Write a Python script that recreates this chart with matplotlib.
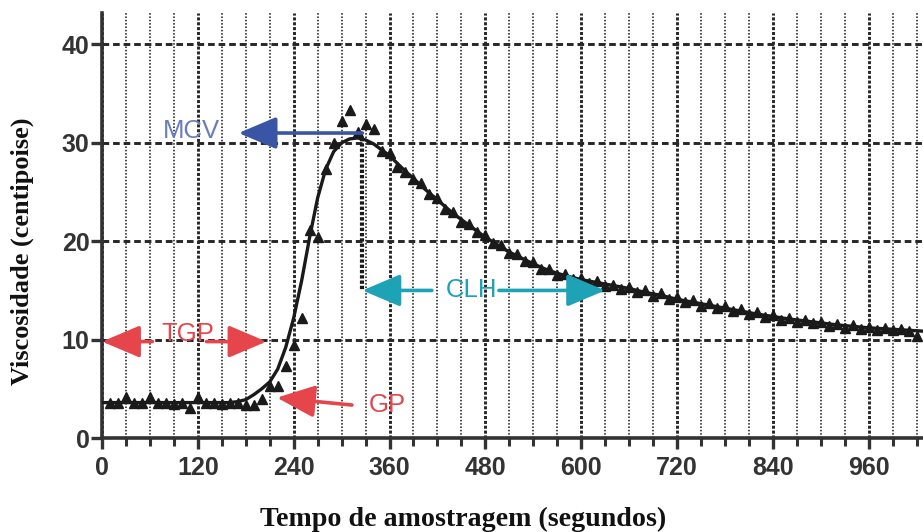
import matplotlib
matplotlib.use("Agg")
import matplotlib.pyplot as plt
from matplotlib.ticker import MultipleLocator

plt.rcParams['lines.scale_dashes'] = False

# ---------------- data ----------------
sample_t = [10, 20, 30, 40, 50, 60, 70, 80, 90, 100, 110, 120, 130, 140, 150, 160, 170, 180, 190, 200,
            210, 220, 230, 240, 250, 260, 270, 280, 290, 300, 310, 320, 330, 340, 350, 360, 370, 380, 390, 400,
            410, 420, 430, 440, 450, 460, 470, 480, 490, 500, 510, 520, 530, 540, 550, 560, 570, 580, 590, 600,
            610, 620, 630, 640, 650, 660, 670, 680, 690, 700, 710, 720, 730, 740, 750, 760, 770, 780, 790, 800,
            810, 820, 830, 840, 850, 860, 870, 880, 890, 900, 910, 920, 930, 940, 950, 960, 970, 980, 990, 1000,
            1010, 1020]
sample_visc = [3.6, 3.6, 4.2, 3.6, 3.6, 4.2, 3.6, 3.6, 3.5, 3.6, 3.1, 4.2, 3.6, 3.6, 3.5, 3.6, 3.6, 3.4, 3.4, 4.0,
               5.3, 5.3, 7.3, 9.5, 12.2, 21.1, 20.4, 27.3, 30.0, 32.2, 33.3, 31.1, 31.9, 31.4, 29.2, 29.0, 27.5, 27.0, 26.3, 25.9,
               24.8, 24.4, 23.3, 23.0, 22.0, 21.8, 20.9, 20.6, 19.8, 19.6, 18.8, 18.7, 18.0, 17.9, 17.2, 17.2, 16.6, 16.7, 16.2, 16.3,
               15.8, 16.0, 15.5, 15.6, 15.1, 15.3, 14.8, 15.0, 14.4, 14.7, 14.1, 14.3, 13.8, 14.0, 13.4, 13.7, 13.2, 13.4, 12.9, 13.1,
               12.6, 12.8, 12.3, 12.5, 12.0, 12.2, 11.8, 12.0, 11.7, 11.8, 11.4, 11.6, 11.2, 11.5, 11.1, 11.3, 11.0, 11.2, 11.0, 11.1,
               10.9, 10.4]

fit_t = [0, 10, 20, 30, 40, 50, 60, 70, 80, 90, 100, 110, 120, 130, 140, 150, 160, 170, 180, 190,
         200, 210, 220, 230, 240, 250, 260, 270, 280, 290, 300, 310, 320, 330, 340, 350, 360, 370, 380, 390,
         400, 410, 420, 430, 440, 450, 460, 470, 480, 490, 500, 510, 520, 530, 540, 550, 560, 570, 580, 590,
         600, 620, 640, 660, 680, 700, 720, 740, 760, 780, 800, 820, 840, 860, 880, 900, 920, 940, 960, 980,
         1000, 1020, 1030]
fit_visc = [3.6, 3.6, 3.6, 3.6, 3.6, 3.6, 3.6, 3.6, 3.6, 3.6, 3.6, 3.6, 3.6, 3.6, 3.6, 3.6, 3.6, 3.7, 3.9, 4.4,
            5.0, 5.7, 7.0, 9.2, 12.2, 16.0, 20.4, 24.4, 27.3, 29.1, 30.0, 30.4, 30.5, 30.3, 29.9, 29.3, 28.7, 27.9, 27.1, 26.4,
            25.6, 24.9, 24.2, 23.5, 22.8, 22.2, 21.6, 21.0, 20.4, 19.9, 19.4, 18.9, 18.5, 18.1, 17.7, 17.35, 17.0, 16.75, 16.5, 16.3,
            16.1, 15.8, 15.5, 15.2, 14.8, 14.5, 14.1, 13.8, 13.5, 13.2, 12.9, 12.6, 12.35, 12.1, 11.9, 11.7, 11.5, 11.35, 11.2, 11.1,
            11.0, 10.9, 10.85]

x_major = [0, 120, 240, 360, 480, 600, 720, 840, 960]
y_major = [0, 10, 20, 30, 40]

# annotation geometry (data coordinates)
peak_t, peak_v = 326, 30.5
mcv_arrow = ((326, 31.0), (171, 31.0))
mcv_text = (112, 31.2)
clh_left = ((413, 15.0), (326, 15.0))
clh_right = ((497, 15.0), (630, 15.0))
clh_text = (463, 15.0)
tgp_left = ((63, 9.8), (0, 9.8))
tgp_right = ((131, 9.8), (206, 9.8))
tgp_text = (107, 10.6)
gp_arrow = ((313, 3.35), (219, 4.1))
gp_text = (357, 3.4)

RED = '#e5454b'
BLUE = '#3a55a6'
BLUE_TXT = '#6a7cbc'
TEAL = '#1ea3b6'
DARK = '#262626'
AXC = '#333333'

# ---------------- figure ----------------
W, H = 923, 532
fig = plt.figure(figsize=(W / 100, H / 100), dpi=100)
ax = fig.add_axes([102 / W, 1 - 438 / H, 1 - 102 / W, (438 - 13) / H])
ax.set_xlim(0, 1028)
ax.set_ylim(0, 43.2)

ax.xaxis.set_major_locator(MultipleLocator(120))
ax.xaxis.set_minor_locator(MultipleLocator(30))
ax.set_xticks(x_major)
ax.set_yticks(y_major)

ax.grid(axis='x', which='major', color=DARK, linewidth=2.1, linestyle=(0, (2.2, 1.3)), zorder=1)
ax.grid(axis='x', which='minor', color=DARK, linewidth=1.2, linestyle=(0, (1.1, 1.3)), zorder=1)
ax.grid(axis='y', which='major', color=DARK, linewidth=2.1, linestyle=(0, (4.8, 2.8)), zorder=1)
ax.set_axisbelow(True)

for s in ['top', 'right']:
    ax.spines[s].set_visible(False)
for s in ['left', 'bottom']:
    ax.spines[s].set_linewidth(2.6)
    ax.spines[s].set_color(AXC)

ax.tick_params(axis='both', which='major', length=8, width=2.4, color=AXC,
               labelsize=18, labelcolor=AXC)
ax.tick_params(axis='y', which='major', pad=1)
ax.tick_params(axis='x', which='major', pad=5)
ax.tick_params(axis='x', which='minor', length=6, width=2.2, color=AXC)
for lab in ax.get_xticklabels() + ax.get_yticklabels():
    lab.set_fontfamily('Liberation Sans')
    lab.set_fontweight('bold')

# fitted curve and samples
ax.plot(fit_t, fit_visc, color='#1a1a1a', linewidth=2.4, zorder=4, clip_on=True)
ax.plot(sample_t, sample_visc, linestyle='none', marker='^', markersize=7.5,
        color='#1a1a1a', zorder=5, clip_on=True)

# vertical dashed line from the peak
ax.plot([peak_t, peak_t], [peak_v, clh_left[1][1]], color='#1a1a1a', linewidth=3.0,
        linestyle=(0, (2.4, 1.4)), solid_capstyle='butt', dash_capstyle='butt', zorder=3)

def arrow(seg, color):
    (x0, y0), (x1, y1) = seg
    ax.annotate('', xy=(x1, y1), xytext=(x0, y0),
                arrowprops=dict(arrowstyle='-|>,head_length=1.3,head_width=0.55',
                                color=color, lw=2.6, mutation_scale=18,
                                shrinkA=0, shrinkB=0),
                zorder=6)

arrow(mcv_arrow, BLUE)
arrow(clh_left, TEAL)
arrow(clh_right, TEAL)
arrow(tgp_left, RED)
arrow(tgp_right, RED)
arrow(gp_arrow, RED)

tfont = dict(family='Liberation Sans', fontsize=18.5, ha='center', va='center', zorder=7)
ax.text(*mcv_text, 'MCV', color=BLUE_TXT, **tfont)
ax.text(*clh_text, 'CLH', color=TEAL, **tfont)
ax.text(*tgp_text, 'TGP', color=RED, **tfont)
ax.text(*gp_text, 'GP', color=RED, **tfont)

fig.text(463 / W, 1 - 519 / H, 'Tempo de amostragem (segundos)', family='Liberation Serif',
         fontweight='bold', fontsize=20.2, ha='center', va='center', color='#111111')
fig.text(22 / W, 1 - 251 / H, 'Viscosidade (centipoise)', family='Liberation Serif',
         fontweight='bold', fontsize=19, ha='center', va='center', rotation=90, color='#111111')

fig.savefig('out.png', dpi=100)
